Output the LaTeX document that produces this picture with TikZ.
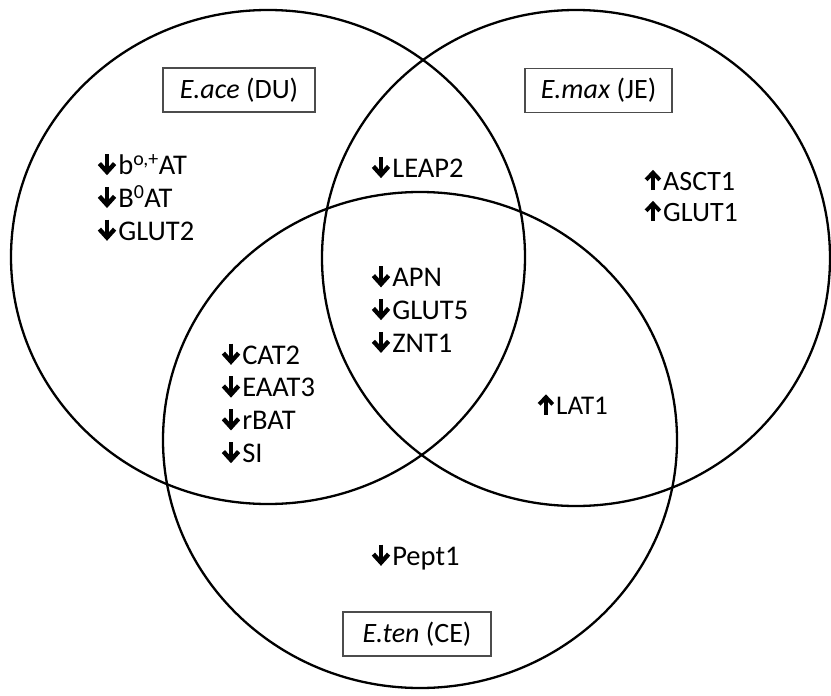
\documentclass[tikz,border=0pt]{standalone}
\usepackage{fontspec}
\setmainfont{Carlito}
\newcommand{\dnarr}{\tikz[x=1pt,y=1pt,baseline=0pt]{\draw[line width=4.8pt] (0,20.5)--(0,4);\draw[line width=4.4pt,miter limit=10] (-7.6,11)--(0,2.6)--(7.6,11);}\hspace{1.5pt}}
\newcommand{\uparr}{\tikz[x=1pt,y=1pt,baseline=0pt]{\draw[line width=4.3pt] (0,0)--(0,15.5);\draw[line width=3.9pt,miter limit=10] (-6.8,10.3)--(0,17.5)--(6.8,10.3);}\hspace{1.5pt}}
\tikzset{
  venn/.style={draw=black,line width=2.3pt},
  lbl/.style={draw=black!70,line width=1.1pt,inner sep=0pt,minimum width=#1,minimum height=44pt,font=\fontsize{28}{32}\selectfont},
  genes/.style={anchor=west,align=left,inner sep=0pt,font=\fontsize{28.5}{32.8}\selectfont}
}
\begin{document}
\begin{tikzpicture}[x=1pt,y=-1pt]
\useasboundingbox (0,0) rectangle (831,696);
\fill[white] (0,0) rectangle (831,696);
\draw[venn] (268,257) ellipse [x radius=257, y radius=247];
\draw[venn] (576,258) ellipse [x radius=254, y radius=248];
\draw[venn] (420,440) ellipse [x radius=257, y radius=248];
% labels
\node[lbl=152pt] (ace) at (239,90) {\textit{E.ace} (DU)};
\node[lbl=147pt] (max) at (598.5,90.5) {\textit{E.max} (JE)};
\node[lbl=148pt] (ten) at (417,634) {\textit{E.ten} (CE)};
% gene groups
\node[genes] (g1) at (97,196) {\dnarr b\textsuperscript{o,+}AT\\\dnarr B\textsuperscript{0}AT\\\dnarr GLUT2};
\node[genes] (g2) at (371,166) {\dnarr LEAP2};
\node[genes] (g3) at (371,308) {\dnarr APN\\\dnarr GLUT5\\\dnarr ZNT1};
\node[genes,font=\fontsize{28}{31}\selectfont] (g4) at (644,197) {\uparr ASCT1\\\uparr GLUT1};
\node[genes] (g5) at (221,402) {\dnarr CAT2\\\dnarr EAAT3\\\dnarr rBAT\\\dnarr SI};
\node[genes,font=\fontsize{27}{31}\selectfont] (g6) at (537,406) {\uparr LAT1};
\node[genes] (g7) at (371,556) {\dnarr Pept1};
\end{tikzpicture}
\end{document}
